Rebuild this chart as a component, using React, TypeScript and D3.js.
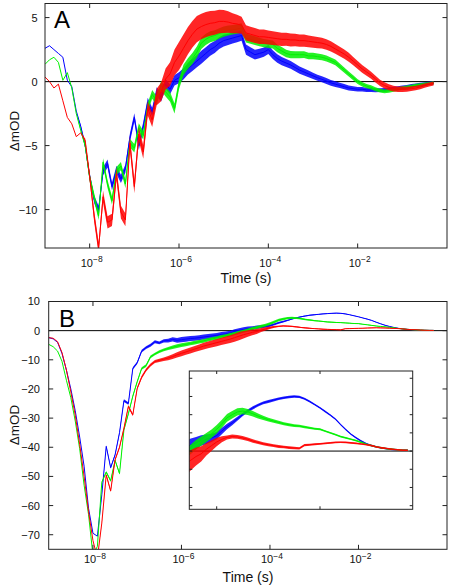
import React from 'react';
import * as d3 from 'd3';

// log10(time / s) sampling grid shared by all series
const LOG_T = [
  -9.0, -8.9, -8.8, -8.7, -8.6, -8.5, -8.4, -8.3, -8.2, -8.1,
  -8.0, -7.9, -7.8, -7.7, -7.6, -7.5, -7.4, -7.3, -7.2, -7.1,
  -7.0, -6.9, -6.8, -6.7, -6.6, -6.5, -6.4, -6.3, -6.2, -6.1,
  -6.0, -5.9, -5.8, -5.7, -5.6, -5.5, -5.4, -5.3, -5.2, -5.1,
  -5.0, -4.9, -4.8, -4.7, -4.6, -4.5, -4.4, -4.3, -4.2, -4.1,
  -4.0, -3.9, -3.8, -3.7, -3.6, -3.5, -3.4, -3.3, -3.2, -3.1,
  -3.0, -2.9, -2.8, -2.7, -2.6, -2.5, -2.4, -2.3, -2.2, -2.1,
  -2.0, -1.9, -1.8, -1.7, -1.6, -1.5, -1.4, -1.3, -1.2, -1.1,
  -1.0, -0.9, -0.8, -0.7, -0.6, -0.5, -0.4, -0.3,
];

// Panel A (mOD)
const A_BLUE = [
  2.6, 2.8, 2.5, 2.2, 1.9, 0.1, -0.4, -2.3, -3.5, -5.0,
  -7.4, -9.2, -10.0, -7.0, -6.4, -8.2, -6.9, -7.6, -6.8, -4.4,
  -2.8, -5.0, -3.5, -1.6, -2.4, -0.8, -1.2, -0.2, -0.6, 0.1,
  0.3, 0.6, 1.0, 1.3, 1.6, 1.9, 2.2, 2.5, 2.7, 3.0,
  3.2, 3.3, 3.4, 3.5, 3.6, 2.5, 2.3, 2.1, 2.2, 2.3,
  2.5, 2.1, 1.8, 1.6, 1.45, 1.3, 1.1, 0.9, 0.75, 0.6,
  0.45, 0.3, 0.18, 0.05, -0.1, -0.2, -0.3, -0.4, -0.5, -0.55,
  -0.6, -0.6, -0.65, -0.65, -0.67, -0.67, -0.65, -0.6, -0.55, -0.5,
  -0.45, -0.4, -0.33, -0.28, -0.22, -0.18, -0.12, -0.1,
];
const A_GREEN = [
  1.35, 1.7, 1.9, 1.5, 0.1, 0.7, -0.5, -2.5, -3.8, -5.0,
  -7.5, -9.0, -10.5, -6.3, -8.0, -9.3, -7.0, -6.6, -8.0, -4.8,
  -5.2, -3.6, -4.2, -2.0, -1.0, -1.5, -0.3, -0.8, -1.2, -2.1,
  -0.2, 0.9, 1.4, 1.8, 2.3, 3.0, 3.3, 3.5, 3.6, 3.75,
  3.9, 4.0, 4.05, 4.1, 4.2, 3.4, 3.3, 3.2, 3.1, 3.0,
  2.95, 2.9, 2.6, 2.4, 2.2, 2.1, 2.1, 2.1, 2.1, 2.0,
  2.0, 1.95, 1.9, 1.8, 1.65, 1.5, 1.2, 0.9, 0.6, 0.3,
  0.0, -0.2, -0.35, -0.45, -0.6, -0.7, -0.77, -0.72, -0.65, -0.58,
  -0.5, -0.45, -0.38, -0.3, -0.25, -0.2, -0.15, -0.1,
];
const A_RED = [
  0.36, 0.0, -0.5, -0.2, -1.5, -2.8, -3.3, -4.3, -4.0, -4.6,
  -7.4, -10.5, -13.0, -9.0, -11.0, -10.8, -7.2, -10.2, -10.8, -4.8,
  -8.2, -4.1, -5.5, -2.1, -3.0, -1.2, -0.8, 0.2, 0.6, 1.5,
  2.0, 2.6, 3.2, 3.7, 4.1, 4.3, 4.45, 4.55, 4.6, 4.7,
  4.7, 4.65, 4.55, 4.5, 4.4, 3.8, 3.7, 3.6, 3.5, 3.5,
  3.45, 3.4, 3.35, 3.3, 3.3, 3.25, 3.25, 3.2, 3.2, 3.15,
  3.1, 3.05, 3.0, 2.9, 2.75, 2.55, 2.35, 2.15, 1.9, 1.6,
  1.3, 1.0, 0.75, 0.5, 0.2, -0.1, -0.3, -0.45, -0.55, -0.6,
  -0.6, -0.6, -0.55, -0.5, -0.42, -0.32, -0.22, -0.15,
];
// noise half-width control points: [log10 t, half-width mOD]
const A_BLUE_NOISE = [[-9, 0], [-8.3, 0], [-8.0, 0.3], [-6.5, 0.35], [-5.5, 0.5], [-4.5, 0.4], [-3, 0.25], [-1.5, 0.15], [-0.3, 0.12]];
const A_GREEN_NOISE = [[-9, 0], [-8.3, 0], [-8.0, 0.3], [-6.5, 0.35], [-5.5, 0.45], [-4.5, 0.35], [-3, 0.25], [-1.5, 0.15], [-0.3, 0.12]];
const A_RED_NOISE = [[-9, 0], [-8.2, 0], [-7.9, 0.45], [-6.6, 0.55], [-6.0, 1.1], [-5.0, 0.9], [-4.5, 0.6], [-3, 0.45], [-1.5, 0.25], [-0.3, 0.15]];

// Panel B (mOD)
const B_BLUE = [
  -2.4, -2.8, -4.0, -7.8, -13.5, -20, -27.5, -36.5, -46.5, -60.9,
  -69.5, -70.5, -56.3, -39.7, -47, -42.6, -35, -24, -25, -13,
  -11, -7, -5.8, -5, -3.8, -4.2, -3.5, -3.4, -3.0, -3.3,
  -3.1, -2.9, -2.7, -2.6, -2.4, -2.2, -2.0, -1.8, -1.6, -1.3,
  -1.1, -0.8, -0.3, 0.1, 0.4, 0.7, 0.9, 1.15, 1.3, 1.45,
  1.7, 2.2, 2.7, 3.1, 3.55, 4.0, 4.4, 4.75, 5.05, 5.3,
  5.45, 5.6, 5.75, 5.85, 5.95, 6.0, 5.95, 5.75, 5.45, 5.1,
  4.75, 4.35, 3.95, 3.5, 2.9, 2.35, 1.85, 1.45, 1.1, 0.8,
  0.6, 0.45, 0.33, 0.25, 0.18, 0.14, 0.1, 0.08,
];
const B_GREEN = [
  -4.7, -5.5, -7.0, -10.5, -17, -23, -31, -40.5, -53, -63,
  -77, -74, -52, -48.5, -51.5, -44.5, -49, -34, -28.5, -22.5,
  -17.5, -13, -12, -9.0, -8.0, -7.2, -6.6, -6.1, -5.7, -5.3,
  -5.0, -4.7, -4.4, -4.1, -3.8, -3.5, -3.1, -2.8, -2.5, -2.1,
  -1.8, -1.4, -1.0, -0.6, -0.2, 0.2, 0.7, 1.1, 1.5, 1.9,
  2.4, 3.0, 3.65, 4.0, 4.3, 4.4, 4.3, 4.1, 3.85, 3.65,
  3.45, 3.3, 3.15, 3.0, 2.9, 2.8, 2.75, 2.65, 2.55, 2.45,
  2.4, 2.2, 2.0, 1.8, 1.6, 1.45, 1.3, 1.15, 0.95, 0.75,
  0.6, 0.45, 0.35, 0.25, 0.2, 0.15, 0.1, 0.08,
];
const B_RED = [
  -2.4, -2.6, -3.8, -7.5, -13.5, -21, -29, -39, -50, -62,
  -72, -78, -66, -49.5, -55, -44.3, -40, -33.5, -26, -28.9,
  -19.8, -16, -13.5, -11.8, -10.6, -10.2, -9.8, -9.4, -8.9, -8.3,
  -7.8, -7.3, -6.8, -6.3, -5.8, -5.3, -4.9, -4.5, -4.1, -3.7,
  -3.3, -2.9, -2.4, -1.9, -1.4, -1.0, -0.6, -0.3, 0.2, 0.6,
  1.0, 1.3, 1.5, 1.6, 1.55, 1.45, 1.3, 1.1, 0.95, 0.8,
  0.7, 0.6, 0.5, 0.45, 0.38, 0.33, 0.3, 0.65, 0.7, 0.75,
  0.8, 0.85, 0.9, 0.95, 0.97, 0.95, 0.9, 0.85, 0.78, 0.7,
  0.6, 0.45, 0.35, 0.28, 0.2, 0.15, 0.1, 0.08,
];
const B_BLUE_NOISE = [[-9, 0], [-7.9, 0], [-7.7, 0.4], [-6.5, 0.5], [-6.0, 0.9], [-4.6, 0.75], [-4.0, 0.4], [-3.5, 0.18], [-2, 0.1], [-0.3, 0.08]];
const B_GREEN_NOISE = [[-9, 0], [-7.9, 0], [-7.7, 0.4], [-6.5, 0.45], [-6.0, 0.65], [-4.6, 0.55], [-3.6, 0.4], [-3.0, 0.2], [-2, 0.1], [-0.3, 0.08]];
const B_RED_NOISE = [[-9, 0], [-7.9, 0], [-7.7, 0.4], [-6.5, 0.55], [-6.0, 0.95], [-4.7, 1.4], [-4.2, 0.7], [-3.8, 0.22], [-2, 0.1], [-0.3, 0.08]];

const A_Y_TICKS = [5, 0, -5, -10];
const B_Y_TICKS = [10, 0, -10, -20, -30, -40, -50, -60, -70];
const X_TICK_EXP = [-8, -6, -4, -2];
const INSET_X_TICK_EXP = [-4, -2];
const INSET_Y_TICKS = [8, 6, 4, 2, 0, -2, -4, -6];

const BLUE = '#0000ff';
const GREEN = '#00f000';
const RED = '#ff0000';
const FONT = "'Liberation Sans', Arial, Helvetica, sans-serif";
const FRAME = '#222';

function noiseAt(ctrl: number[][], lt: number) {
  const s = d3.scaleLinear().domain(ctrl.map((c) => c[0])).range(ctrl.map((c) => c[1])).clamp(true);
  return s(lt);
}

function Series({ xs, ys, vals, noise, color, minLog = -99 }: any) {
  const pts = LOG_T.map((lt, i) => ({ t: Math.pow(10, lt), lt, v: vals[i], h: noiseAt(noise, lt) }))
    .filter((d) => d.lt >= minLog);
  const area = d3.area<any>().x((d) => xs(d.t)).y0((d) => ys(d.v - d.h)).y1((d) => ys(d.v + d.h));
  const line = d3.line<any>().x((d) => xs(d.t)).y((d) => ys(d.v));
  return (
    <g>
      <path d={area(pts) || ''} fill={color} fillOpacity={0.85} stroke="none" />
      <path d={line(pts) || ''} fill="none" stroke={color} strokeWidth={1} />
    </g>
  );
}

function Panel({ id, box, yDomain, yTicks, series, letter, letterPos, yLabelX, tickLabelX, xLabelBase, timeBase, timeX, yTitleY, children }: any) {
  const xs = d3.scaleLog().domain([1e-9, 1]).range([box.l, box.r]);
  const ys = d3.scaleLinear().domain(yDomain).range([box.b, box.t]);
  const tl = 4.5;
  return (
    <g>
      <defs>
        <clipPath id={id}>
          <rect x={box.l} y={box.t} width={box.r - box.l} height={box.b - box.t} />
        </clipPath>
      </defs>
      <g clipPath={`url(#${id})`}>
        <line x1={box.l} x2={box.r} y1={ys(0)} y2={ys(0)} stroke="#000" strokeWidth={1} />
        {series.map((s: any, i: number) => (
          <Series key={i} xs={xs} ys={ys} vals={s.vals} noise={s.noise} color={s.color} />
        ))}
      </g>
      {children && children(xs, ys)}
      <rect x={box.l} y={box.t} width={box.r - box.l} height={box.b - box.t} fill="none" stroke={FRAME} strokeWidth={1} />
      {yTicks.map((v: number) => (
        <g key={v}>
          <line x1={box.l} x2={box.l + tl} y1={ys(v)} y2={ys(v)} stroke={FRAME} />
          <line x1={box.r} x2={box.r - tl} y1={ys(v)} y2={ys(v)} stroke={FRAME} />
          <text x={tickLabelX} y={ys(v)} dy="0.36em" textAnchor="end" fontSize={11} fontFamily={FONT} fill="#111">
            {v < 0 ? `\u2212${Math.abs(v)}` : `${v}`}
          </text>
        </g>
      ))}
      {X_TICK_EXP.map((e) => {
        const x = xs(Math.pow(10, e));
        return (
          <g key={e}>
            <line x1={x} x2={x} y1={box.b} y2={box.b - tl} stroke={FRAME} />
            <line x1={x} x2={x} y1={box.t} y2={box.t + tl} stroke={FRAME} />
            <text x={x + 2} y={xLabelBase} textAnchor="middle" fontSize={11} fontFamily={FONT} fill="#111">
              10<tspan dy={-4.5} fontSize={8.5}>{`\u2212${Math.abs(e)}`}</tspan>
            </text>
          </g>
        );
      })}
      <text x={timeX} y={timeBase} textAnchor="middle" fontSize={14} fontFamily={FONT} fill="#111">Time (s)</text>
      <text transform={`translate(${yLabelX},${yTitleY}) rotate(-90)`} textAnchor="middle" fontSize={13.5} fontFamily={FONT} fill="#111">ΔmOD</text>
      <text x={letterPos[0]} y={letterPos[1]} fontSize={24} fontFamily={FONT} fill="#000">{letter}</text>
    </g>
  );
}

function Inset({ box }: any) {
  const lo = -4 - (216.7 - box.l) / 51.65;
  const hi = -2 + (box.r - 320) / 51.65;
  const xs = d3.scaleLog().domain([Math.pow(10, lo), Math.pow(10, hi)]).range([box.l, box.r]);
  const ys = d3.scaleLinear().domain([-6.4, 8.8]).range([box.b, box.t]);
  const tl = 3;
  const ser = [
    { vals: B_BLUE, noise: B_BLUE_NOISE, color: BLUE },
    { vals: B_GREEN, noise: B_GREEN_NOISE, color: GREEN },
    { vals: B_RED, noise: B_RED_NOISE, color: RED },
  ];
  return (
    <g>
      <defs>
        <clipPath id="insetClip">
          <rect x={box.l} y={box.t} width={box.r - box.l} height={box.b - box.t} />
        </clipPath>
      </defs>
      <rect x={box.l} y={box.t} width={box.r - box.l} height={box.b - box.t} fill="#fff" />
      <g clipPath="url(#insetClip)">
        <line x1={box.l} x2={box.r} y1={ys(0)} y2={ys(0)} stroke="#000" strokeWidth={1} />
        {ser.map((s, i) => (
          <Series key={i} xs={xs} ys={ys} vals={s.vals} noise={s.noise} color={s.color} minLog={-4.7} />
        ))}
      </g>
      <rect x={box.l} y={box.t} width={box.r - box.l} height={box.b - box.t} fill="none" stroke={FRAME} strokeWidth={1} />
      {INSET_Y_TICKS.map((v) => (
        <g key={v}>
          <line x1={box.l} x2={box.l + tl} y1={ys(v)} y2={ys(v)} stroke={FRAME} />
          <line x1={box.r} x2={box.r - tl} y1={ys(v)} y2={ys(v)} stroke={FRAME} />
        </g>
      ))}
      {INSET_X_TICK_EXP.map((e) => {
        const x = xs(Math.pow(10, e));
        return (
          <g key={e}>
            <line x1={x} x2={x} y1={box.b} y2={box.b - tl} stroke={FRAME} />
            <line x1={x} x2={x} y1={box.t} y2={box.t + tl} stroke={FRAME} />
          </g>
        );
      })}
    </g>
  );
}

export default function App() {
  const boxA = { l: 45, r: 447, t: 3.5, b: 248 };
  const boxB = { l: 48.7, r: 447, t: 301.5, b: 549.3 };
  const boxI = { l: 189.3, r: 412.7, t: 371, b: 509.3 };
  return (
    <svg width={454} height={586} style={{ position: 'absolute', left: 0, top: 0, background: '#fff' }}>
      <rect width={454} height={586} fill="#fff" />
      <Panel
        id="clipA" box={boxA} yDomain={[-13, 6.1]} yTicks={A_Y_TICKS}
        series={[
          { vals: A_BLUE, noise: A_BLUE_NOISE, color: BLUE },
          { vals: A_GREEN, noise: A_GREEN_NOISE, color: GREEN },
          { vals: A_RED, noise: A_RED_NOISE, color: RED },
        ]}
        letter="A" letterPos={[54, 28]} yLabelX={19} tickLabelX={37.5}
        xLabelBase={266.5} timeBase={283} timeX={246} yTitleY={131}
      />
      <Panel
        id="clipB" box={boxB} yDomain={[-75, 10]} yTicks={B_Y_TICKS}
        series={[
          { vals: B_BLUE, noise: B_BLUE_NOISE, color: BLUE },
          { vals: B_GREEN, noise: B_GREEN_NOISE, color: GREEN },
          { vals: B_RED, noise: B_RED_NOISE, color: RED },
        ]}
        letter="B" letterPos={[59, 327]} yLabelX={19} tickLabelX={40}
        xLabelBase={563} timeBase={581.5} timeX={248} yTitleY={425}
        children={() => <Inset box={boxI} />}
      />
    </svg>
  );
}
